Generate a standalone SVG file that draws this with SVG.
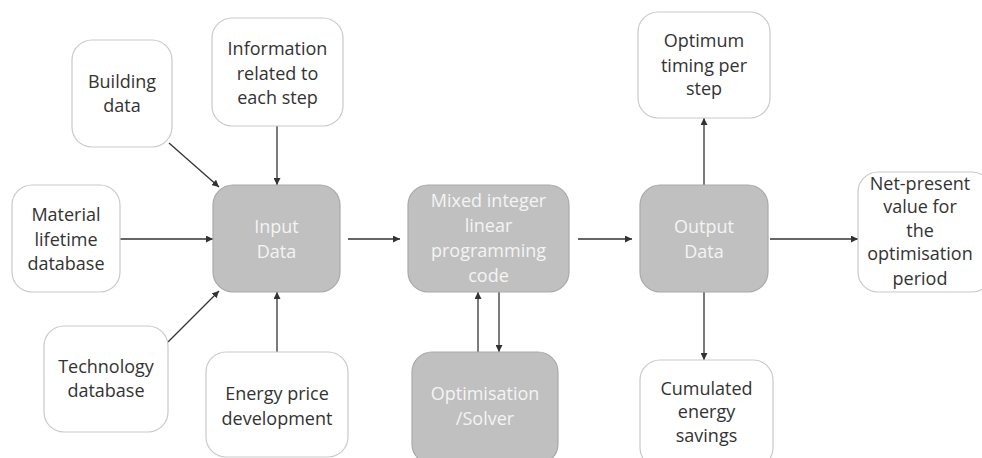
<svg xmlns="http://www.w3.org/2000/svg" width="982" height="458" viewBox="0 0 982 458">
  <defs>
    <marker id="arrow" viewBox="0 0 10 10" refX="10" refY="5" markerWidth="7" markerHeight="7" markerUnits="userSpaceOnUse" orient="auto">
      <path d="M0,0 L10,5 L0,10 z" fill="#333"/>
    </marker>
    <style>
      .light rect { fill: #ffffff; stroke: #c9c9c9; stroke-width: 1.2; }
      .dark rect { fill: #c0c0c1; stroke: #a9a9aa; stroke-width: 1.2; }
      text { font-family: "Open Sans", "Liberation Sans", sans-serif; font-size: 18px; text-anchor: middle; }
      .light text { fill: #333333; }
      .dark text { fill: #f4f4f4; }
      #connectors line { stroke: #333333; stroke-width: 1.3; marker-end: url(#arrow); }
    </style>
  </defs>
  <rect width="982" height="458" fill="#ffffff"/>

  <g id="connectors">
    <line x1="169" y1="143" x2="219" y2="187"/>
    <line x1="277" y1="126" x2="277" y2="185"/>
    <line x1="120" y1="239" x2="213" y2="239"/>
    <line x1="168" y1="342" x2="219" y2="291"/>
    <line x1="277" y1="352" x2="277" y2="292"/>
    <line x1="348" y1="239" x2="400" y2="239"/>
    <line x1="578" y1="239" x2="632" y2="239"/>
    <line x1="770" y1="239" x2="858" y2="239"/>
    <line x1="704" y1="185" x2="704" y2="118"/>
    <line x1="704" y1="292" x2="704" y2="360"/>
    <line x1="478" y1="352" x2="478" y2="292"/>
    <line x1="499" y1="292" x2="499" y2="352"/>
  </g>

  <g id="building-data" class="light">
    <rect x="72" y="40" width="100" height="107" rx="20"/>
    <text x="122" y="88">Building</text>
    <text x="122" y="112">data</text>
  </g>

  <g id="information-step" class="light">
    <rect x="212" y="18" width="131" height="108" rx="20"/>
    <text x="277.5" y="55">Information</text>
    <text x="277.5" y="80">related to</text>
    <text x="277.5" y="104">each step</text>
  </g>

  <g id="material-lifetime" class="light">
    <rect x="12" y="185" width="108" height="107" rx="20"/>
    <text x="66" y="221">Material</text>
    <text x="66" y="246">lifetime</text>
    <text x="66" y="270">database</text>
  </g>

  <g id="technology-database" class="light">
    <rect x="44" y="326" width="124" height="106" rx="20"/>
    <text x="106" y="373">Technology</text>
    <text x="106" y="397">database</text>
  </g>

  <g id="energy-price" class="light">
    <rect x="206" y="352" width="142" height="105" rx="20"/>
    <text x="277" y="400">Energy price</text>
    <text x="277" y="425">development</text>
  </g>

  <g id="input-data" class="dark">
    <rect x="213" y="185" width="127" height="107" rx="20"/>
    <text x="276.5" y="233">Input</text>
    <text x="276.5" y="258">Data</text>
  </g>

  <g id="milp-code" class="dark">
    <rect x="408" y="185" width="161" height="107" rx="20"/>
    <text x="488.5" y="207">Mixed integer</text>
    <text x="488.5" y="232">linear</text>
    <text x="488.5" y="257">programming</text>
    <text x="488.5" y="282">code</text>
  </g>

  <g id="solver" class="dark">
    <rect x="412" y="352" width="146" height="112" rx="20"/>
    <text x="485" y="400">Optimisation</text>
    <text x="485" y="425">/Solver</text>
  </g>

  <g id="output-data" class="dark">
    <rect x="640" y="185" width="128" height="107" rx="20"/>
    <text x="704" y="233">Output</text>
    <text x="704" y="258">Data</text>
  </g>

  <g id="optimum-timing" class="light">
    <rect x="638" y="12" width="132" height="106" rx="20"/>
    <text x="704" y="47">Optimum</text>
    <text x="704" y="72">timing per</text>
    <text x="704" y="95">step</text>
  </g>

  <g id="net-present-value" class="light">
    <rect x="858" y="172" width="134" height="120" rx="20"/>
    <text x="920" y="190">Net-present</text>
    <text x="920" y="213">value for</text>
    <text x="920" y="237">the</text>
    <text x="920" y="260">optimisation</text>
    <text x="920" y="285">period</text>
  </g>

  <g id="cumulated-savings" class="light">
    <rect x="640" y="360" width="133" height="108" rx="20"/>
    <text x="706.5" y="395">Cumulated</text>
    <text x="706.5" y="418">energy</text>
    <text x="706.5" y="442">savings</text>
  </g>
</svg>
